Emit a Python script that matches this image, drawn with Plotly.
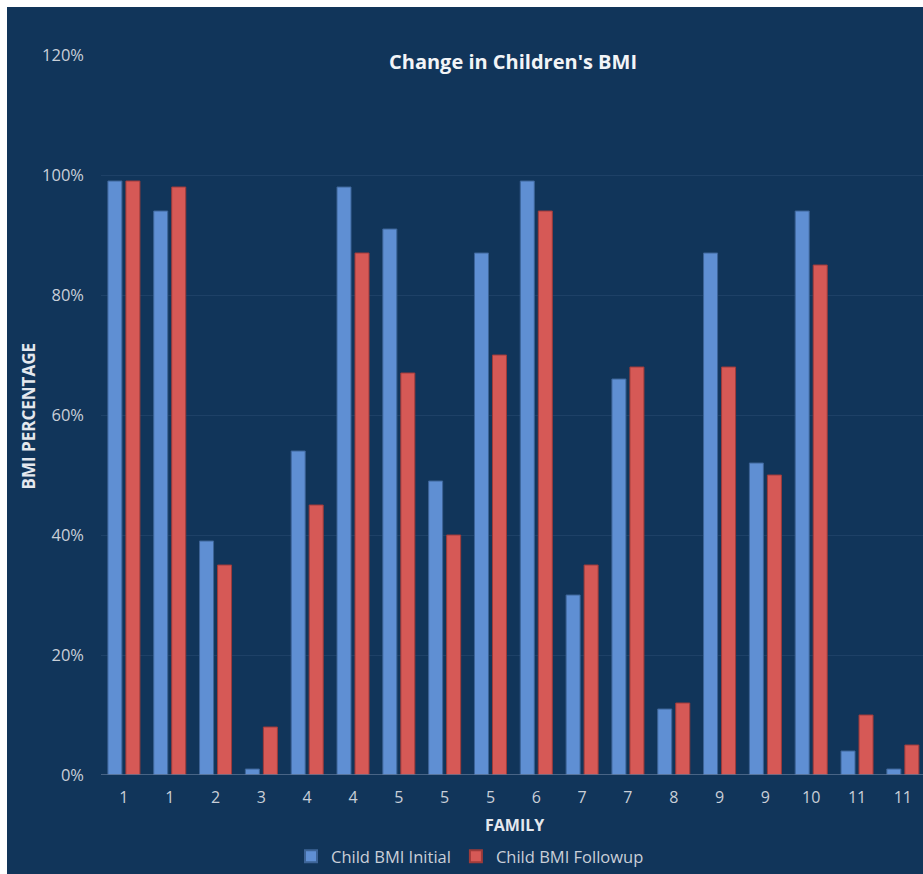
import plotly.graph_objects as go

# Family labels (families appear more than once, one bar pair per child)
families = ["1", "1", "2", "3", "4", "4", "5", "5", "5", "6", "7", "7", "8", "9", "9", "10", "11", "11"]
bmi_initial = [99, 94, 39, 1, 54, 98, 91, 49, 87, 99, 30, 66, 11, 87, 52, 94, 4, 1]
bmi_followup = [99, 98, 35, 8, 45, 87, 67, 40, 70, 94, 35, 68, 12, 68, 50, 85, 10, 5]
y_ticks = [0, 20, 40, 60, 80, 100, 120]

W, H = 923, 874
L, R, T, B = 101, 0, 55, 98
PW, PH = W - L - R, H - T - B

BG = "#11355A"
TICK = "#C9CFD8"
FONT = "Open Sans"

pos = list(range(len(families)))
init_frac = [v / 100 for v in bmi_initial]
follow_frac = [v / 100 for v in bmi_followup]

fig = go.Figure()
fig.add_bar(x=pos, y=init_frac, name="Child BMI Initial",
            marker=dict(color="#5F8FD3", line=dict(color="#3D6497", width=1)))
fig.add_bar(x=pos, y=follow_frac, name="Child BMI Followup",
            marker=dict(color="#D65956", line=dict(color="#9E3B3A", width=1)))


def px_x(p):
    return (p - L) / PW


def px_y(p):
    return (H - B - p) / PH


fig.update_layout(
    width=W, height=H,
    margin=dict(l=L, r=R, t=T, b=B),
    paper_bgcolor=BG, plot_bgcolor=BG,
    barmode="group", bargap=0.214, bargroupgap=0.222,
    font=dict(family=FONT, color=TICK, size=16),
    showlegend=True,
    legend=dict(orientation="h", x=px_x(470), y=px_y(858), xanchor="center", yanchor="middle",
                font=dict(size=16.5, color=TICK), bgcolor="rgba(0,0,0,0)",
                itemwidth=30, tracegroupgap=0, itemsizing="constant"),
    xaxis=dict(
        range=[-0.5, -0.5 + PW / 45.82], tickmode="array", tickvals=pos, ticktext=families,
        showgrid=False, zeroline=False, showline=False, ticks="",
        ticklabelstandoff=11, tickfont=dict(size=16, color=TICK),
    ),
    yaxis=dict(
        range=[0, 1.2], tickmode="array", tickvals=[v / 100 for v in y_ticks],
        ticktext=[f"{v}%" for v in y_ticks],
        showgrid=True, gridcolor="#1E4167", gridwidth=1,
        zeroline=False, showline=False, ticks="",
        ticklabelstandoff=16, tickfont=dict(size=16.5, color=TICK),
    ),
    annotations=[
        dict(text="<b>Change in Children's BMI</b>", xref="paper", yref="paper",
             x=px_x(513), y=px_y(62), xanchor="center", yanchor="middle", showarrow=False,
             font=dict(size=20, color="#F2F4F7", family=FONT)),
        dict(text="<b>BMI PERCENTAGE</b>", xref="paper", yref="paper",
             x=px_x(28), y=px_y(417), xanchor="center", yanchor="middle", showarrow=False,
             textangle=-90, font=dict(size=17, color="#E4E8EE", family=FONT)),
        dict(text="<b>FAMILY</b>", xref="paper", yref="paper",
             x=px_x(514), y=px_y(826), xanchor="center", yanchor="middle", showarrow=False,
             font=dict(size=16, color="#E4E8EE", family=FONT)),
    ],
    shapes=[
        # baseline at 0%
        dict(type="line", xref="paper", yref="y", x0=0, x1=1, y0=0, y1=0,
             line=dict(color="#5C7595", width=1.5), layer="above"),
        # white page edge on the top and left
        dict(type="rect", xref="paper", yref="paper", x0=px_x(0), x1=px_x(W),
             y0=px_y(7), y1=px_y(-2), fillcolor="white", line=dict(width=0), layer="above"),
        dict(type="rect", xref="paper", yref="paper", x0=px_x(-2), x1=px_x(7),
             y0=px_y(H + 2), y1=px_y(-2), fillcolor="white", line=dict(width=0), layer="above"),
    ],
)

fig.write_html("out.html")
